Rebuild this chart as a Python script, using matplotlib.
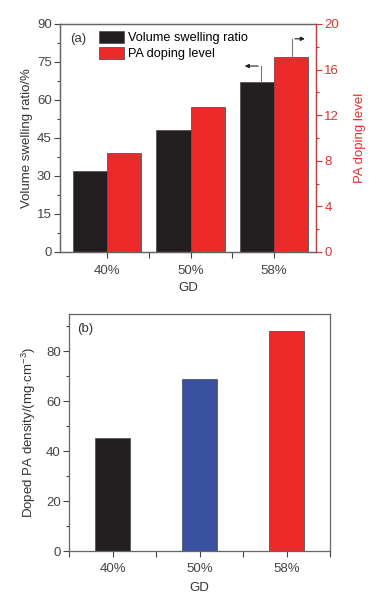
import matplotlib.pyplot as plt
import numpy as np
from matplotlib.ticker import MultipleLocator

plt.rcParams['font.family'] = ['Liberation Sans', 'DejaVu Sans']
plt.rcParams['mathtext.fontset'] = 'custom'
plt.rcParams['mathtext.rm'] = 'Liberation Sans'
plt.rcParams['mathtext.it'] = 'Liberation Sans'

gd = ['40%', '50%', '58%']
swelling_ratio = [32, 48.2, 67]
pa_doping = [8.7, 12.7, 17.1]
pa_density = [45.2, 68.9, 88.1]

black = '#231f20'
red = '#ed2a2a'
blue = '#3a50a0'
axcol = '#444444'
fs = 9.5

fig = plt.figure(figsize=(3.84, 6.04), dpi=100)
ax1 = fig.add_axes([60/384, 1 - 252/604, 256/384, 228/604])
ax2 = ax1.twinx()
ax3 = fig.add_axes([69/384, 1 - 551/604, 261/384, 237/604])

x = np.arange(len(gd))
w = 0.41

b1 = ax1.bar(x - w/2, swelling_ratio, w, color=black, edgecolor='#555555', linewidth=0.6,
             label='Volume swelling ratio')
b2 = ax2.bar(x + w/2, pa_doping, w, color=red, edgecolor='#555555', linewidth=0.6,
             label='PA doping level')
ax1.set_xlim(-0.56, 2.5)
ax1.set_ylim(0, 90)
ax2.set_ylim(0, 20)
ax1.yaxis.set_major_locator(MultipleLocator(15))
ax1.yaxis.set_minor_locator(MultipleLocator(7.5))
ax2.yaxis.set_major_locator(MultipleLocator(4))
ax2.yaxis.set_minor_locator(MultipleLocator(2))
ax1.set_xticks(x)
ax1.set_xticklabels(gd)
ax1.set_xticks([0.5, 1.5], minor=True)
ax1.set_ylabel('Volume swelling ratio/%', fontsize=fs, color='#333333', labelpad=3)
ax2.set_ylabel('PA doping level', fontsize=fs, color=red, labelpad=11)
ax1.set_xlabel('GD', fontsize=fs, color='#333333', labelpad=4)

for ax in (ax1, ax2, ax3):
    ax.tick_params(which='both', direction='out', labelsize=fs, colors=axcol, pad=2)
    ax.tick_params(which='major', length=4, width=0.8)
    ax.tick_params(which='minor', length=2.5, width=0.8)
    for s in ax.spines.values():
        s.set_color('#666666')
        s.set_linewidth(0.9)
ax2.tick_params(axis='y', which='both', colors=red)
ax2.spines['right'].set_color(red)
ax1.tick_params(axis='x', which='both', pad=5)
ax1.tick_params(axis='x', which='minor', length=4)

ax1.text(0.04, 0.934, '(a)', transform=ax1.transAxes, fontsize=fs, color='#333333',
         ha='left', va='center')
ax1.legend([b1, b2], ['Volume swelling ratio', 'PA doping level'], loc='upper left',
           bbox_to_anchor=(0.152, 0.97), frameon=False, fontsize=fs - 0.3, handlelength=2.0,
           handleheight=1.1, handletextpad=0.25, labelspacing=0.2, borderaxespad=0,
           borderpad=0)

# arrows indicating the axis each series belongs to
xb = 1.842
ax1.plot([xb, xb], [swelling_ratio[2], 73.4], color='#777777', lw=0.8)
ax1.annotate('', xy=(1.615, 73.4), xytext=(xb, 73.4),
             arrowprops=dict(arrowstyle='-|>', color=black, lw=0.8, mutation_scale=6))
xr = 2.213
ax2.plot([xr, xr], [pa_doping[2], 18.7], color='#777777', lw=0.8)
ax2.annotate('', xy=(2.40, 18.7), xytext=(xr, 18.7),
             arrowprops=dict(arrowstyle='-|>', color=black, lw=0.8, mutation_scale=6))

ax3.bar(x, pa_density, 0.4, color=[black, blue, red], edgecolor='#555555', linewidth=0.6)
ax3.set_xlim(-0.5, 2.5)
ax3.set_ylim(0, 95)
ax3.yaxis.set_major_locator(MultipleLocator(20))
ax3.yaxis.set_minor_locator(MultipleLocator(10))
ax3.set_xticks(x)
ax3.set_xticklabels(gd)
ax3.set_xticks([-0.5, 0.5, 1.5, 2.5], minor=True)
ax3.tick_params(axis='x', which='both', pad=5)
ax3.tick_params(axis='x', which='minor', length=4)
ax3.set_ylabel('Doped PA density/(mg·cm$^{-3}$)', fontsize=fs, color='#333333', labelpad=6)
ax3.set_xlabel('GD', fontsize=fs, color='#333333', labelpad=5)
ax3.text(0.03, 0.935, '(b)', transform=ax3.transAxes, fontsize=fs, color='#333333',
         ha='left', va='center')

fig.savefig('out.png', dpi=100)
